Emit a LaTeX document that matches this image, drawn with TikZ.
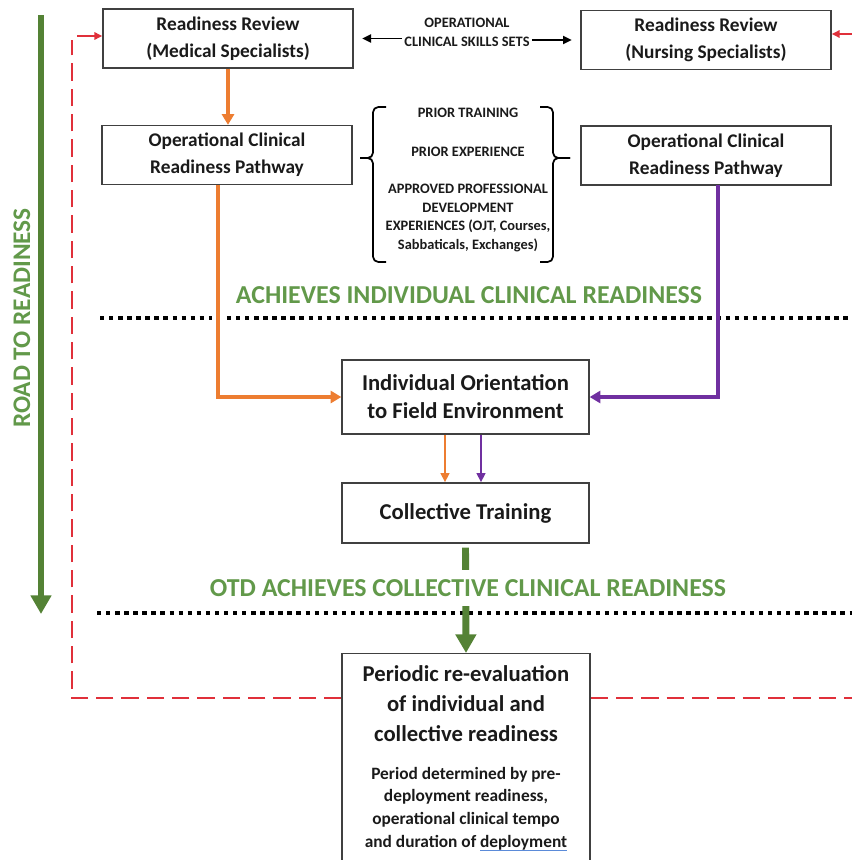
\documentclass[tikz,border=0pt]{standalone}
\usepackage{fontspec}
\setmainfont{Carlito}
\usetikzlibrary{arrows.meta}
\definecolor{dgreen}{HTML}{548235}
\definecolor{lgreen}{HTML}{62994A}
\definecolor{orng}{HTML}{ED7D31}
\definecolor{purp}{HTML}{7030A0}
\definecolor{rred}{HTML}{E0303A}
\definecolor{ulblue}{HTML}{5B8BD9}
\definecolor{txt}{HTML}{1A1A1A}
\newcommand\blueul[1]{{\setbox0\hbox{#1}\rlap{\color{ulblue}\rule[-2.8pt]{\wd0}{1pt}}\box0}}
\begin{document}
\begin{tikzpicture}[x=0.75pt,y=-0.75pt,
  box/.style={draw=black!75, line width=1pt, align=center, inner sep=0pt,
    text=txt, font=\fontsize{14.5}{20}\bfseries\selectfont,
    minimum width=250*0.75pt, minimum height=59*0.75pt},
  bigbox/.style={box, font=\fontsize{17}{21}\bfseries\selectfont,
    minimum width=247*0.75pt},
  smalltxt/.style={align=center, inner sep=1.5pt, text=txt,
    font=\fontsize{10.8}{14.2}\bfseries\selectfont},
  heading/.style={text=lgreen, inner sep=0pt, font=\fontsize{19.4}{22}\bfseries\selectfont},
  orarr/.style={draw=orng, line width=3pt, -{Triangle[width=9pt,length=8pt]}},
  puarr/.style={draw=purp, line width=2.6pt, -{Triangle[width=9pt,length=8pt]}},
  thinor/.style={draw=orng, line width=1.9pt, -{Triangle[width=6.5pt,length=7pt]}},
  thinpu/.style={draw=purp, line width=1.9pt, -{Triangle[width=6.5pt,length=7pt]}},
  garr/.style={draw=dgreen, line width=5.2pt, -{Triangle[width=15pt,length=14pt]}},
  blkarr/.style={draw=black, line width=1.4pt, -{Triangle[width=6pt,length=6.5pt]}},
  rdash/.style={draw=rred, line width=1.6pt, dash pattern=on 13pt off 6pt},
  rarr/.style={draw=rred, line width=1.6pt, -{Triangle[width=5.5pt,length=6pt]}},
  dotline/.style={draw=black, line width=3.3pt, dash pattern=on 3.3pt off 3.5pt},
  brace/.style={draw=black, line width=1.3pt, rounded corners=4pt}
]
\useasboundingbox (0,0) rectangle (852,860);

% boxes
\node[box] (mr) at (228,38.5) {Readiness Review\\(Medical Specialists)};
\node[box] (nr) at (706,40) {Readiness Review\\(Nursing Specialists)};
\node[box] (mp) at (227,155) {Operational Clinical\\Readiness Pathway};
\node[box] (np) at (706,155.5) {Operational Clinical\\Readiness Pathway};
\node[bigbox, minimum height=74*0.75pt] (io) at (465.5,397) {Individual Orientation\\to Field Environment};
\node[bigbox, minimum height=60*0.75pt] (ct) at (465.5,513) {Collective Training};
\node[draw=black!75, line width=1pt, minimum width=248*0.75pt, minimum height=240*0.75pt,
  anchor=north, inner sep=0pt] (pe) at (466,653) {};
\node[align=center, inner sep=0pt, text=txt, font=\fontsize{17}{22.5}\bfseries\selectfont]
  (pet) at (466,704) {Periodic re-evaluation\\of individual and\\collective readiness};
\node[align=center, inner sep=0pt, text=txt, font=\fontsize{13}{17}\bfseries\selectfont]
  (pes) at (466,809) {Period determined by pre-\\deployment readiness,\\operational clinical tempo\\and duration of \blueul{deployment}};

% skills sets
\node[smalltxt] (sk) at (467,32) {OPERATIONAL\\CLINICAL SKILLS SETS};
\draw[blkarr, shorten >=6.5pt] (sk.west |- mr.east) -- (mr.east);
\draw[blkarr, shorten >=6.5pt] (sk.east |- nr.west) -- (nr.west);

% brace contents
\node[smalltxt] (t1) at (468,113) {PRIOR TRAINING};
\node[smalltxt] (t2) at (468,152) {PRIOR EXPERIENCE};
\node[smalltxt] (t3) at (468,218) {APPROVED PROFESSIONAL\\DEVELOPMENT\\EXPERIENCES (OJT, Courses,\\Sabbaticals, Exchanges)};
\draw[brace] (386,107) -- (373,107) -- (373,158) -- (360,158);
\draw[brace] (360,158) -- (373,158) -- (373,262) -- (386,262);
\draw[brace] (540,107) -- (553,107) -- (553,158) -- (570,158);
\draw[brace] (570,158) -- (553,158) -- (553,262) -- (540,262);

% dotted lines
\coordinate (d1a) at (100,318); \coordinate (d1b) at (852,318);
\coordinate (d2a) at (97,613);  \coordinate (d2b) at (852,613);
\draw[dotline] (d1a) -- (d1b);
\draw[dotline] (d2a) -- (d2b);

% headings
\node[heading] (h1) at (469,295) {ACHIEVES INDIVIDUAL CLINICAL READINESS};

% orange path
\draw[orarr] (mr.south) -- (mr.south |- mp.north);
\coordinate (ox) at (218,185);
\draw[draw=white, line width=9pt] (218,300) -- (218,336);
\draw[orarr] (ox) |- (io.west);
% purple path
\coordinate (px) at (718,185);
\draw[puarr] (px) |- (io.east);

% short arrows
\draw[thinor] (io.south -| 445,0) -- (ct.north -| 445,0);
\draw[thinpu] (io.south -| 481,0) -- (ct.north -| 481,0);

% green arrow to periodic
\draw[garr] ([yshift=-3pt]ct.south) -- (pe.north);
\node[heading, fill=white, inner xsep=2pt, inner ysep=7pt] (h2) at (468,588) {OTD ACHIEVES COLLECTIVE CLINICAL READINESS};

% road to readiness
\coordinate (rs) at (41,15); \coordinate (re) at (41,614);
\draw[garr] (rs) -- (re);
\node[heading, rotate=90, font=\fontsize{19}{22}\bfseries\selectfont] (road) at (22,318) {ROAD TO READINESS};

% red dashed feedback
\coordinate (rb) at (72,698); \coordinate (rt) at (72,40);
\draw[rdash] (rb -| pe.west) -- (rb) -- (rt);
\coordinate (rta) at (77,36);
\draw[rarr] (rta) -- (rta -| mr.west);
\coordinate (rbr) at (852,698);
\draw[rdash] (rb -| pe.east) -- (rbr);
\coordinate (rtr) at (852,34);
\draw[rarr] (rtr) -- (rtr -| nr.east);
\end{tikzpicture}
\end{document}
